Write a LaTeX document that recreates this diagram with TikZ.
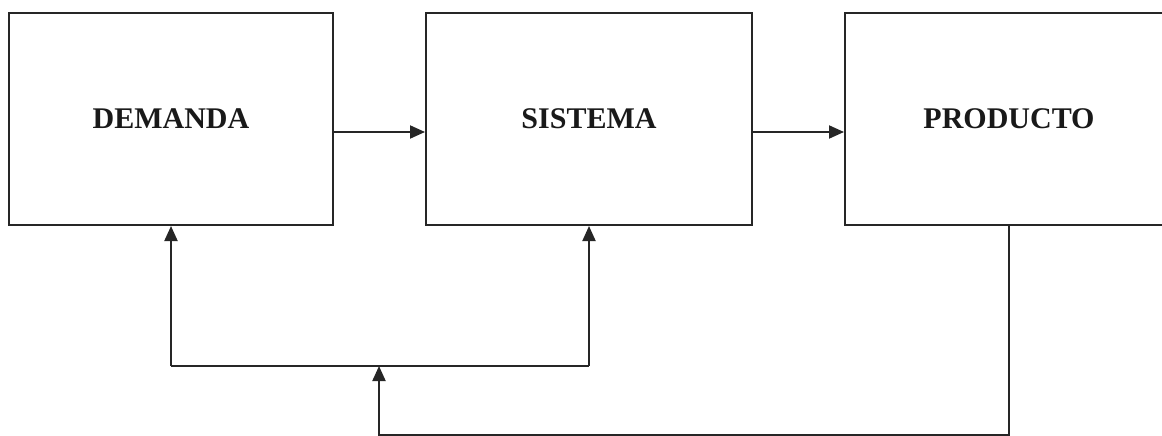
\documentclass[tikz,border=0pt]{standalone}
\usepackage{fontspec}
\setmainfont{Liberation Serif}
\usetikzlibrary{arrows.meta}
\begin{document}
\begin{tikzpicture}[x=1pt,y=-1pt,
  blk/.style={draw=black!85,line width=2pt,rectangle,inner sep=0pt,
    font=\fontsize{30}{36}\selectfont\bfseries,text=black!90},
  con/.style={draw=black!85,line width=2pt},
  arr/.style={con,-{Triangle[length=15pt,width=13pt]}}]
\useasboundingbox (0,0) rectangle (1162,436);
\node[blk,minimum width=324pt,minimum height=212pt] (dem) at (171,119) {DEMANDA};
\node[blk,minimum width=326pt,minimum height=212pt] (sis) at (589,119) {SISTEMA};
\node[blk,minimum width=328pt,minimum height=212pt] (pro) at (1009,119) {PRODUCTO};
\draw[arr] ([yshift=-13pt]dem.east) -- ([yshift=-13pt]sis.west);
\draw[arr] ([yshift=-13pt]sis.east) -- ([yshift=-13pt]pro.west);
\coordinate (h1) at (171,366);
\coordinate (h2) at (589,366);
\coordinate (j1) at (379,366);
\coordinate (b) at (379,435);
\draw[con] (h1) -- (h2);
\draw[arr] (h1) -- (dem.south);
\draw[arr] (h2) -- (sis.south);
\draw[arr] (pro.south) |- (b) -- (j1);
\end{tikzpicture}
\end{document}
